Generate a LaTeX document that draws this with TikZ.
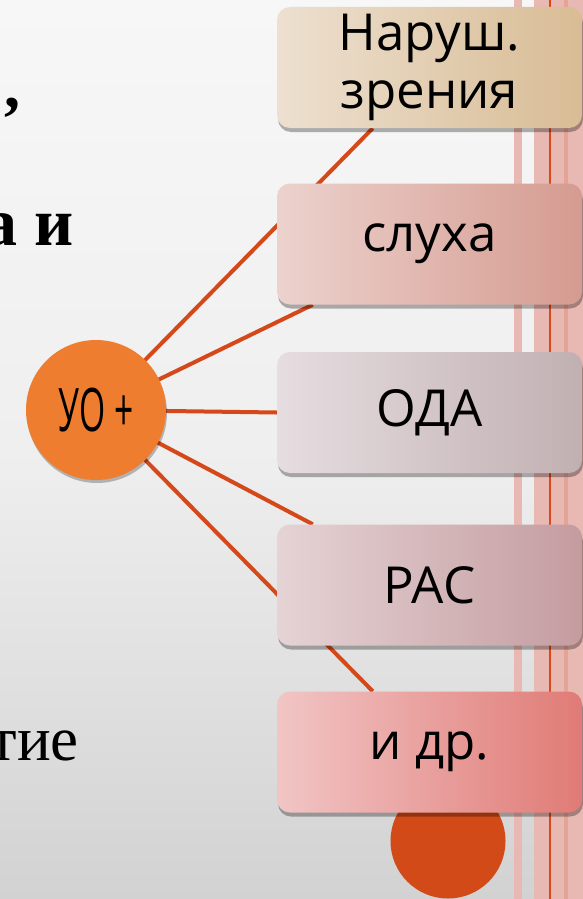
\documentclass[tikz,border=0pt]{standalone}
\usepackage{fontspec}
\newfontfamily\boxfont{Open Sans}
\newfontfamily\leftfont{Liberation Serif}
\usetikzlibrary{shadows,calc}
\pgfdeclarelayer{bg}
\pgfdeclarelayer{lines}
\pgfsetlayers{bg,lines,main}
\definecolor{bgtop}{HTML}{F7F7F7}
\definecolor{bgmid}{HTML}{EFEFEF}
\definecolor{bgbot}{HTML}{D2D2D2}
\definecolor{stripecol}{HTML}{E8B8B2}
\definecolor{stripedark}{HTML}{E3A496}
\definecolor{redline}{HTML}{D84A1A}
\definecolor{disccol}{HTML}{D24A17}
\definecolor{conncol}{HTML}{D5481A}
\definecolor{uocol}{HTML}{EE7D30}
\definecolor{aL}{HTML}{EDE0D0}\definecolor{aR}{HTML}{D8BC95}
\definecolor{bL}{HTML}{ECD2CD}\definecolor{bR}{HTML}{D59B90}
\definecolor{cL}{HTML}{E6DDE0}\definecolor{cR}{HTML}{C1B0B2}
\definecolor{dL}{HTML}{E5D3D5}\definecolor{dR}{HTML}{C49CA0}
\definecolor{eL}{HTML}{F1C5C5}\definecolor{eR}{HTML}{E07B76}
\tikzset{
  itembox/.style={rounded corners=13pt, minimum width=305pt, minimum height=121pt,
    inner sep=0pt, align=center, font=\boxfont\fontsize{51}{58}\selectfont,
    drop shadow={shadow xshift=1pt, shadow yshift=-4pt, opacity=0.3, fill=black}},
  conn/.style={draw=conncol, line width=4pt},
  lefttext/.style={anchor=base east, inner sep=0pt, text=black}
}
\begin{document}
\begin{tikzpicture}[x=1pt,y=-1pt]
\useasboundingbox (0,0) rectangle (583,899);
\begin{pgfonlayer}{bg}
\shade[top color=bgtop, bottom color=bgbot, middle color=bgmid] (0,0) rectangle (583,899);
\fill[fill=stripecol] (514,0) rectangle (522,899);
\fill[fill=stripecol] (534,0) rectangle (583,899);
\fill[fill=stripedark] (564,0) rectangle (568,899);
\fill[fill=redline] (549,0) rectangle (551,899);
\fill[fill=disccol] (448,841) circle (57.5pt);
\end{pgfonlayer}

\node[lefttext, font=\leftfont\bfseries\fontsize{64}{70}\selectfont] (t1) at (21,107) {,};
\node[lefttext, font=\leftfont\bfseries\fontsize{68}{74}\selectfont] (t2) at (74,245) {а и};
\node[lefttext, font=\leftfont\fontsize{63}{70}\selectfont] (t3) at (79,760) {тие};

\node[itembox, left color=aL, right color=aR] (b1) at (429.5,67.5) {Наруш.\\зрения};
\node[itembox, left color=bL, right color=bR] (b2) at (429.5,244) {слуха};
\node[itembox, left color=cL, right color=cR] (b3) at (429.5,412.5) {ОДА};
\node[itembox, left color=dL, right color=dR] (b4) at (429.5,585) {РАС};
\node[itembox, left color=eL, right color=eR] (b5) at (429.5,752) {и др.};

\node[circle, fill=uocol, minimum size=140pt, inner sep=0pt,
  drop shadow={shadow xshift=1pt, shadow yshift=-3pt, opacity=0.25, fill=black},
  font=\boxfont\fontsize{60}{66}\selectfont] (c) at (96,410) {\scalebox{0.56}[1]{УО +}};

\begin{pgfonlayer}{lines}
\draw[conn] (c.center) -- ($(b1.south west)+(96,0)$);
\draw[conn] (c.center) -- ($(b2.south west)+(36,0)$);
\draw[conn] (c.center) -- (b3.west);
\draw[conn] (c.center) -- ($(b4.north west)+(36,0)$);
\draw[conn] (c.center) -- ($(b5.north west)+(96,0)$);
\end{pgfonlayer}
\end{tikzpicture}
\end{document}
